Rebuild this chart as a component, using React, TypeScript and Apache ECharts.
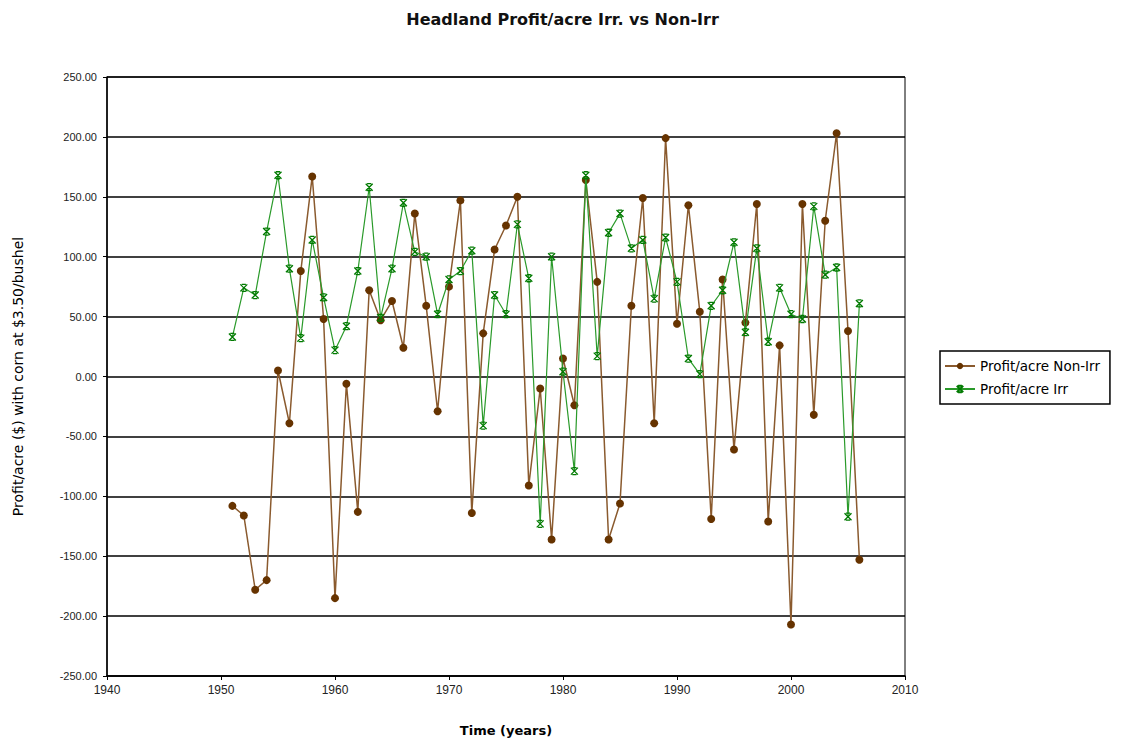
import React, { useEffect, useRef } from "react";
import * as echarts from "echarts";

const years = [1951,1952,1953,1954,1955,1956,1957,1958,1959,1960,1961,1962,1963,1964,1965,1966,1967,1968,1969,1970,1971,1972,1973,1974,1975,1976,1977,1978,1979,1980,1981,1982,1983,1984,1985,1986,1987,1988,1989,1990,1991,1992,1993,1994,1995,1996,1997,1998,1999,2000,2001,2002,2003,2004,2005,2006];

const nonIrr = [-108,-116,-178,-170,5,-39,88,167,48,-185,-6,-113,72,47,63,24,136,59,-29,75,147,-114,36,106,126,150,-91,-10,-136,15,-24,164,79,-136,-106,59,149,-39,199,44,143,54,-119,81,-61,45,144,-121,26,-207,144,-32,130,203,38,-153];

const irr = [33,74,68,121,168,90,32,114,66,22,42,88,158,49,90,145,104,100,52,81,88,105,-41,68,52,127,82,-123,100,4,-79,168,17,120,136,107,114,65,116,79,15,2,59,72,112,37,107,29,74,52,48,142,85,91,-117,61];

const seriesNames = ["Profit/acre Non-Irr", "Profit/acre Irr"];

const starPath = "path://M0,0 L10,10 M10,0 L0,10 M2,0 L8,0 M2,10 L8,10";

export default function App() {
  const ref = useRef<HTMLDivElement>(null);
  useEffect(() => {
    if (!ref.current) return;
    const chart = echarts.init(ref.current, null, { renderer: "svg" });
    const font = "'Liberation Sans', Arial, sans-serif";
    const wide = "'DejaVu Sans', Verdana, sans-serif";
    chart.setOption({
      animation: false,
      backgroundColor: "#ffffff",
      textStyle: { fontFamily: font },
      title: {
        text: "Headland Profit/acre Irr. vs Non-Irr",
        left: "center",
        top: 6,
        textStyle: { fontFamily: wide, fontSize: 16, fontWeight: "bold", color: "#111" },
      },
      legend: {
        orient: "vertical",
        left: 940,
        top: 351,
        borderColor: "#000",
        borderWidth: 1.5,
        padding: [8, 10, 8, 4],
        itemGap: 9,
        itemWidth: 30,
        itemHeight: 8,
        textStyle: { fontFamily: wide, fontSize: 13.5, color: "#000" },
        data: seriesNames,
      },
      grid: { left: 107, right: 220, top: 77, bottom: 65, show: true, borderColor: "#000", borderWidth: 1 },
      xAxis: {
        type: "value",
        min: 1940,
        max: 2010,
        interval: 10,
        name: "Time (years)",
        nameLocation: "middle",
        nameGap: 48,
        nameTextStyle: { fontFamily: wide, fontSize: 13, fontWeight: "bold", color: "#000" },
        axisLine: { show: true, onZero: false, lineStyle: { color: "#000", width: 1.5 } },
        axisTick: { show: true, length: 4, lineStyle: { color: "#000" } },
        axisLabel: {
          fontFamily: font,
          fontSize: 12,
          color: "#222",
          margin: 8,
          formatter: (v: number) => String(v),
        },
        splitLine: { show: false },
      },
      yAxis: {
        type: "value",
        min: -250,
        max: 250,
        interval: 50,
        name: "Profit/acre ($) with corn at $3.50/bushel",
        nameLocation: "middle",
        nameGap: 82,
        nameTextStyle: { fontFamily: wide, fontSize: 14, color: "#000" },
        axisLine: { show: true, lineStyle: { color: "#000", width: 1.5 } },
        axisTick: { show: true, length: 4, lineStyle: { color: "#000" } },
        axisLabel: {
          fontFamily: font,
          fontSize: 11,
          color: "#222",
          margin: 10,
          formatter: (v: number) => v.toFixed(2),
        },
        splitLine: { show: true, lineStyle: { color: "#000", width: 1.5 } },
      },
      series: [
        {
          name: seriesNames[0],
          type: "line",
          data: years.map((y, i) => [y, nonIrr[i]]),
          symbol: "circle",
          symbolSize: 8,
          lineStyle: { color: "#8a5a2e", width: 1.5 },
          itemStyle: { color: "#663300" },
          z: 2,
        },
        {
          name: seriesNames[1],
          type: "line",
          data: years.map((y, i) => [y, irr[i]]),
          symbol: starPath,
          symbolSize: 7,
          lineStyle: { color: "#2a9a2a", width: 1.2 },
          itemStyle: { color: "transparent", borderColor: "#007a00", borderWidth: 1.3 },
          z: 3,
        },
      ],
    });
    return () => chart.dispose();
  }, []);
  return (
    <div
      ref={ref}
      style={{ position: "fixed", left: 0, top: 0, width: 1125, height: 742, background: "#fff" }}
    />
  );
}
